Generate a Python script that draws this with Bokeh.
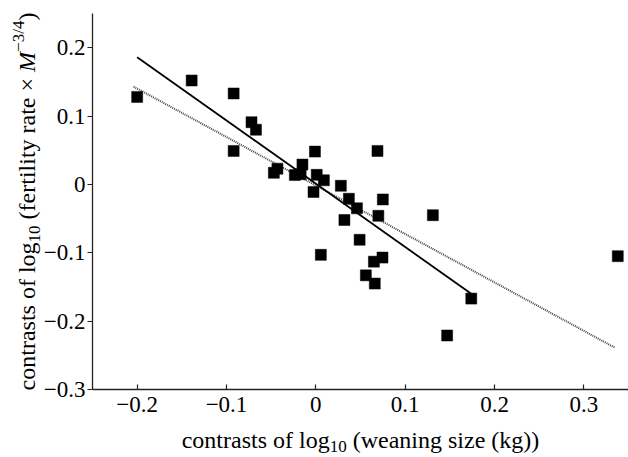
import math
from bokeh.plotting import figure
from bokeh.models import Range1d, FixedTicker, Label
from bokeh.embed import file_html
from bokeh.resources import INLINE

# ---- data ----
x_vals = [-0.200, -0.139, -0.092, -0.072, -0.067, -0.092, -0.047, -0.043,
          -0.0235, -0.015, -0.017, -0.001, -0.0026, 0.001, 0.069, 0.009,
          0.028, 0.037, 0.075, 0.046, 0.070, 0.131, 0.032, 0.049,
          0.0056, 0.0746, 0.065, 0.056, 0.066, 0.174, 0.147, 0.338]
y_vals = [0.128, 0.152, 0.133, 0.091, 0.080, 0.049, 0.017, 0.023,
          0.0137, 0.029, 0.015, 0.048, -0.011, 0.014, 0.049, 0.006,
          -0.002, -0.021, -0.022, -0.035, -0.046, -0.045, -0.052, -0.081,
          -0.103, -0.107, -0.113, -0.133, -0.145, -0.167, -0.221, -0.105]

solid_fit_x = [-0.200, 0.174]
solid_fit_y = [0.186, -0.160]
dotted_fit_x = [-0.204, 0.335]
dotted_fit_y = [0.143, -0.239]

x_ticks = [-0.2, -0.1, 0, 0.1, 0.2, 0.3]
x_tick_labels = ["\u22120.2", "\u22120.1", "0", "0.1", "0.2", "0.3"]
y_ticks = [-0.3, -0.2, -0.1, 0, 0.1, 0.2]
y_tick_labels = ["\u22120.3", "\u22120.2", "\u22120.1", "0", "0.1", "0.2"]

X0, X1 = -0.25, 0.35   # extent of the x axis
Y0, Y1 = -0.3, 0.25    # extent of the y axis

# ---- layout (pixel geometry of the axes on the canvas) ----
W, H = 628, 457
AX_L, AX_R, AX_T, AX_B = 92, 628, 13, 389
SX = (AX_R - AX_L) / (X1 - X0)
SY = (AX_B - AX_T) / (Y1 - Y0)
xr = Range1d(X0 - AX_L / SX, X0 + (W - AX_L) / SX)
yr = Range1d(Y0 - (H - AX_B) / SY, Y0 + AX_B / SY)
FONT = "Liberation Serif"

p = figure(width=W, height=H, x_range=xr, y_range=yr,
           output_backend="svg", toolbar_location=None,
           min_border_left=0, min_border_right=0, min_border_top=0,
           min_border_bottom=0)
p.outline_line_color = None
p.grid.visible = False
p.background_fill_color = "white"
p.border_fill_color = "white"

for ax in (p.xaxis[0], p.yaxis[0]):
    ax.axis_line_color = "#222222"
    ax.axis_line_width = 1.3
    ax.major_tick_line_color = "#222222"
    ax.major_tick_line_width = 1.2
    ax.minor_tick_line_color = None
    ax.major_label_text_font = FONT
    ax.major_label_text_font_size = "23px"
    ax.major_label_text_color = "black"

xa = p.xaxis[0]
xa.fixed_location = Y0
xa.bounds = (X0, X1)
xa.ticker = FixedTicker(ticks=x_ticks)
xa.major_label_overrides = dict(zip(x_ticks, x_tick_labels))
xa.major_tick_in = 5
xa.major_tick_out = 0
xa.major_label_standoff = 7

ya = p.yaxis[0]
ya.fixed_location = X0
ya.bounds = (Y0, Y1)
ya.ticker = FixedTicker(ticks=y_ticks)
ya.major_label_overrides = dict(zip(y_ticks, y_tick_labels))
ya.major_tick_in = 0
ya.major_tick_out = 5
ya.major_label_standoff = 2

# ---- marks ----
p.line(dotted_fit_x, dotted_fit_y, line_color="#444444", line_width=2,
       line_dash="1 1")
p.line(solid_fit_x, solid_fit_y, line_color="black", line_width=1.8)
p.scatter(x_vals, y_vals, marker="square", size=11, fill_color="black",
          line_color="black", line_width=0.5)

# ---- axis titles built from pieces (sub/superscripts) ----
ADV = {'a': 444, 'b': 500, 'c': 444, 'd': 500, 'e': 444, 'f': 333, 'g': 500,
       'h': 500, 'i': 278, 'k': 500, 'l': 278, 'm': 778, 'n': 500, 'o': 500,
       'r': 333, 's': 389, 't': 278, 'w': 722, 'y': 500, 'z': 444, ' ': 250,
       '(': 333, ')': 333, '0': 500, '1': 500, '3': 500, '4': 500, '/': 278,
       '\u00d7': 564, '\u2212': 564, 'M': 833}


def tw(s, size):
    return sum(ADV.get(c, 500) for c in s) / 1000.0 * size


def dx(cx):
    return X0 + (cx - AX_L) / SX


def dy(cy):
    return Y0 + (AX_B - cy) / SY


MAIN, SUB = 24, 17

# pieces: (text, size, shift_down_px, italic, gap_after_px)
x_pieces = [("contrasts of log", MAIN, 0, False, 0),
            ("10", SUB, 7, False, tw(" ", MAIN)),
            ("(weaning size (kg))", MAIN, 0, False, 0)]
y_pieces = [("contrasts of log", MAIN, 0, False, 0),
            ("10", SUB, 7, False, tw(" ", MAIN)),
            ("(fertility rate \u00d7", MAIN, 0, False, tw(" ", MAIN)),
            ("M", MAIN, 0, True, 0),
            ("\u22123/4", SUB, -9, False, 0),
            (")", MAIN, 0, False, 0)]


def total(pieces):
    return sum(tw(t, s) + g for t, s, _, _, g in pieces)


# x title: horizontal, centred under the axis
cx = (AX_L + AX_R) / 2 - total(x_pieces) / 2
base_y = 439
for t, s, sh, it, g in x_pieces:
    p.add_layout(Label(x=dx(cx), y=dy(base_y + sh), text=t,
                       text_font=FONT, text_font_size=f"{s}px",
                       text_font_style="italic" if it else "normal",
                       text_align="left", text_baseline="alphabetic",
                       text_color="black"))
    cx += tw(t, s) + g

# y title: rotated, reading upward, centred along the axis
cy = (AX_T + AX_B) / 2 + total(y_pieces) / 2
base_x = 26.5
for t, s, sh, it, g in y_pieces:
    p.add_layout(Label(x=dx(base_x + sh), y=dy(cy), text=t, angle=math.pi / 2,
                       text_font=FONT, text_font_size=f"{s}px",
                       text_font_style="italic" if it else "normal",
                       text_align="left", text_baseline="alphabetic",
                       text_color="black"))
    cy -= tw(t, s) + g

open("out.html", "w").write(file_html(p, INLINE))
